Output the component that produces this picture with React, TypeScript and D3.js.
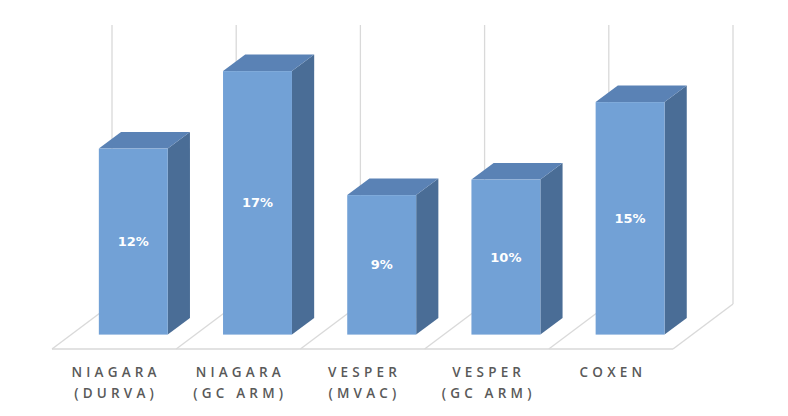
import React, { useEffect, useRef } from 'react';
import * as d3 from 'd3';

const categories = ['NIAGARA (DURVA)', 'NIAGARA (GC ARM)', 'VESPER (MVAC)', 'VESPER (GC ARM)', 'COXEN'];
const labelLines = [
  ['NIAGARA', '(DURVA)'],
  ['NIAGARA', '(GC ARM)'],
  ['VESPER', '(MVAC)'],
  ['VESPER', '(GC ARM)'],
  ['COXEN'],
];
const values = [12, 17, 9, 10, 15];
const yMax = 18;

export default function App() {
  const svgRef = useRef<SVGSVGElement>(null);

  useEffect(() => {
    if (!svgRef.current) return;
    d3.select(svgRef.current).selectAll('*').remove();

    const width = 788;
    const height = 416;

    // floor front edge and the depth vector of the whole plot
    const floorLeft = 52;
    const floorRight = 673;
    const floorFrontY = 349;
    const depth = { dx: 60, dy: -45 };
    const wallHeight = 279;

    // bars sit between these depth fractions
    const barFront = 0.32;
    const barBack = 0.69;
    const barWidthRatio = 0.555;

    const svg = d3.select(svgRef.current)
      .attr('width', width)
      .attr('height', height);

    const x = d3.scaleBand<string>()
      .domain(categories)
      .range([floorLeft, floorRight])
      .padding(0);

    const y = d3.scaleLinear()
      .domain([0, yMax])
      .range([0, wallHeight]);

    const step = x.step();
    const bounds = d3.range(categories.length + 1).map(i => floorLeft + i * step);
    const backY = floorFrontY + depth.dy;

    const grid = svg.append('g')
      .attr('stroke', '#d9d9d9')
      .attr('stroke-width', 1.3)
      .attr('fill', 'none');

    // floor outline
    grid.append('line')
      .attr('x1', floorLeft).attr('y1', floorFrontY)
      .attr('x2', floorRight).attr('y2', floorFrontY);

    bounds.forEach(bx => {
      grid.append('line')
        .attr('x1', bx).attr('y1', floorFrontY)
        .attr('x2', bx + depth.dx).attr('y2', backY);
      // back wall lines
      grid.append('line')
        .attr('x1', bx + depth.dx).attr('y1', backY)
        .attr('x2', bx + depth.dx).attr('y2', backY - y(yMax));
    });

    // bars
    const bdx0 = depth.dx * barFront;
    const bdy0 = depth.dy * barFront;
    const bdx = depth.dx * (barBack - barFront);
    const bdy = depth.dy * (barBack - barFront);
    const barW = step * barWidthRatio;

    const bars = svg.append('g')
      .selectAll('g')
      .data(values)
      .enter()
      .append('g');

    const geo = (d: number, i: number) => {
      const cx = (x(categories[i]) as number) + step / 2 + bdx0;
      const x0 = cx - barW / 2;
      const x1 = cx + barW / 2;
      const yb = floorFrontY + bdy0;
      const yt = yb - y(d);
      return { x0, x1, yb, yt, cx };
    };

    bars.append('path')
      .attr('d', (d, i) => {
        const g = geo(d, i);
        return `M${g.x1},${g.yt}L${g.x1 + bdx},${g.yt + bdy}L${g.x1 + bdx},${g.yb + bdy}L${g.x1},${g.yb}Z`;
      })
      .attr('fill', '#4a6d96');

    bars.append('path')
      .attr('d', (d, i) => {
        const g = geo(d, i);
        return `M${g.x0},${g.yt}L${g.x1},${g.yt}L${g.x1 + bdx},${g.yt + bdy}L${g.x0 + bdx},${g.yt + bdy}Z`;
      })
      .attr('fill', '#5a82b5');

    bars.append('rect')
      .attr('x', (d, i) => geo(d, i).x0)
      .attr('y', (d, i) => geo(d, i).yt)
      .attr('width', barW)
      .attr('height', d => y(d))
      .attr('fill', '#72a1d6');

    bars.append('text')
      .attr('x', (d, i) => geo(d, i).cx)
      .attr('y', (d, i) => (geo(d, i).yt + geo(d, i).yb) / 2)
      .attr('dy', '0.35em')
      .attr('text-anchor', 'middle')
      .style('fill', 'white')
      .style('font-family', '"DejaVu Sans", sans-serif')
      .style('font-size', '13px')
      .style('font-weight', 'bold')
      .text(d => `${d}%`);

    // category labels
    const labels = svg.append('g')
      .style('font-family', '"Open Sans", "Liberation Sans", sans-serif')
      .style('font-size', '13.5px')
      .style('font-weight', 600)
      .style('letter-spacing', '4.2px')
      .style('fill', '#595959');

    labelLines.forEach((lines, i) => {
      const cx = (x(categories[i]) as number) + step / 2 + 2;
      const t = labels.append('text')
        .attr('text-anchor', 'middle')
        .attr('x', cx);
      lines.forEach((ln, j) => {
        t.append('tspan')
          .attr('x', cx)
          .attr('y', 377 + j * 20.5)
          .text(ln);
      });
    });
  }, []);

  return (
    <div style={{ position: 'absolute', left: 0, top: 0, background: 'white' }}>
      <svg ref={svgRef} style={{ display: 'block' }}></svg>
    </div>
  );
}
